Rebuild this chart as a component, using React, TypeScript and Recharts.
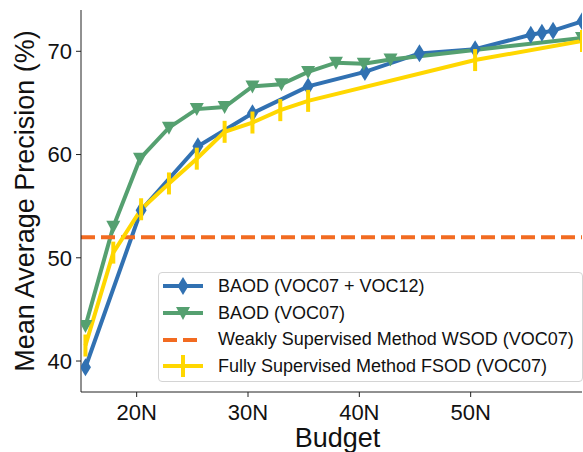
import { LineChart, Line, XAxis, YAxis, ReferenceLine, Legend } from "recharts";

// budget (in units of N) and mAP (%)
const BUDGET_BAOD_0712 = [15.4, 20.4, 25.5, 30.4, 35.4, 40.5, 45.4, 50.4, 55.4, 56.4, 57.4, 60];
const MAP_BAOD_0712 = [39.4, 54.6, 60.8, 64.0, 66.6, 68.0, 69.8, 70.2, 71.6, 71.8, 72.0, 72.9];

const BUDGET_BAOD_07 = [15.4, 17.9, 20.3, 22.9, 25.4, 27.9, 30.4, 33.0, 35.4, 37.9, 40.4, 42.8, 60];
const MAP_BAOD_07 = [43.4, 53.0, 59.6, 62.6, 64.4, 64.6, 66.6, 66.8, 68.0, 68.9, 68.8, 69.2, 71.3];

const BUDGET_FSOD = [15.4, 17.9, 20.4, 22.9, 25.4, 27.9, 30.4, 32.9, 35.4, 50.4, 60];
const MAP_FSOD = [41.5, 50.5, 54.7, 57.2, 59.6, 62.2, 63.1, 64.3, 65.2, 69.15, 71.0];

const MAP_WSOD = 52;

const X_TICKS = [20, 30, 40, 50];
const Y_TICKS = [40, 50, 60, 70];

const SERIES_NAMES = [
  "BAOD (VOC07 + VOC12)",
  "BAOD (VOC07)",
  "Weakly Supervised Method WSOD (VOC07)",
  "Fully Supervised Method FSOD (VOC07)",
];

const BLUE = "#3171b2";
const GREEN = "#55a070";
const ORANGE = "#f26b21";
const YELLOW = "#ffd700";
const INK = "#111";
const FONT = "'Liberation Sans', Arial, Helvetica, sans-serif";

const toPoints = (xs: number[], ys: number[]) => xs.map((x, i) => ({ budget: x, map: ys[i] }));

const baod0712 = toPoints(BUDGET_BAOD_0712, MAP_BAOD_0712);
const baod07 = toPoints(BUDGET_BAOD_07, MAP_BAOD_07);
const fsod = toPoints(BUDGET_FSOD, MAP_FSOD);

function diamond(cx: number, cy: number, key?: string) {
  return (
    <path
      key={key}
      d={`M${cx},${cy - 9}L${cx + 5.5},${cy}L${cx},${cy + 9}L${cx - 5.5},${cy}Z`}
      fill={BLUE}
    />
  );
}

function triangleDown(cx: number, cy: number, key?: string) {
  return (
    <path
      key={key}
      d={`M${cx - 7},${cy - 6}L${cx + 7},${cy - 6}L${cx},${cy + 7}Z`}
      fill={GREEN}
    />
  );
}

// vertical tick marker ("|")
function vbar(cx: number, cy: number, key?: string) {
  return (
    <path
      key={key}
      d={`M${cx},${cy - 11}V${cy + 11}`}
      stroke={YELLOW}
      strokeWidth={4}
      fill="none"
    />
  );
}

const LEGEND_ICONS = [
  (w: number) => (
    <>
      <line x1={0} x2={w} y1={13} y2={13} stroke={BLUE} strokeWidth={4} />
      {diamond(w / 2, 13)}
    </>
  ),
  (w: number) => (
    <>
      <line x1={0} x2={w} y1={13} y2={13} stroke={GREEN} strokeWidth={4} />
      {triangleDown(w / 2, 13)}
    </>
  ),
  (w: number) => (
    <line x1={0} x2={w} y1={13} y2={13} stroke={ORANGE} strokeWidth={4} strokeDasharray="14 6" />
  ),
  (w: number) => (
    <>
      <line x1={0} x2={w} y1={13} y2={13} stroke={YELLOW} strokeWidth={4} />
      {vbar(w / 2, 13)}
    </>
  ),
];

function LegendBox() {
  return (
    <div
      style={{
        boxSizing: "border-box",
        width: 425,
        height: 110,
        background: "rgba(255,255,255,0.85)",
        border: "1px solid #d4d4d4",
        borderRadius: 4,
        padding: "0 0 0 4px",
        fontFamily: FONT,
        fontSize: 18,
        color: INK,
      }}
    >
      {SERIES_NAMES.map((name, i) => (
        <div key={name} style={{ display: "flex", alignItems: "center", height: 26.7 }}>
          <svg width={40} height={26} style={{ marginRight: 15, overflow: "visible" }}>
            {LEGEND_ICONS[i](40)}
          </svg>
          <span style={{ whiteSpace: "nowrap" }}>{name}</span>
        </div>
      ))}
    </div>
  );
}

export default function App() {
  const tickStyle = { fontSize: 22, fill: INK, fontFamily: FONT };
  return (
    <div style={{ position: "absolute", left: 0, top: 0, width: 583, height: 452, background: "#fff" }}>
      <LineChart
        width={583}
        height={452}
        margin={{ top: 10, right: 1, bottom: 0, left: 0 }}
        style={{ fontFamily: FONT }}
      >
        <XAxis
          dataKey="budget"
          type="number"
          domain={[15, 60]}
          ticks={X_TICKS}
          tickFormatter={(v: number) => `${v}N`}
          allowDataOverflow
          height={60}
          tick={tickStyle}
          tickSize={5}
          tickMargin={7}
          stroke="#222"
          label={{
            content: ({ viewBox }: any) => (
              <text
                x={viewBox.x + viewBox.width / 2 + 6}
                y={viewBox.y + 55}
                textAnchor="middle"
                fontSize={27}
                fill={INK}
                fontFamily={FONT}
              >
                Budget
              </text>
            ),
          }}
        />
        <XAxis xAxisId="top" orientation="top" type="number" domain={[15, 60]} height={0} tick={false} tickLine={false} stroke="#222" />
        <YAxis
          dataKey="map"
          type="number"
          domain={[37, 74]}
          ticks={Y_TICKS}
          allowDataOverflow
          width={81}
          tick={tickStyle}
          tickSize={5}
          tickMargin={4}
          stroke="#222"
          label={{
            content: ({ viewBox }: any) => {
              const cx = viewBox.x + 34;
              const cy = viewBox.y + viewBox.height / 2;
              return (
                <text
                  x={cx}
                  y={cy}
                  transform={`rotate(-90 ${cx} ${cy})`}
                  textAnchor="middle"
                  fontSize={27}
                  fill={INK}
                  fontFamily={FONT}
                >
                  Mean Average Precision (%)
                </text>
              );
            },
          }}
        />
        <YAxis yAxisId="right" orientation="right" type="number" domain={[37, 74]} width={0} tick={false} tickLine={false} stroke="#222" />
        <Line
          data={baod0712}
          dataKey="map"
          name={SERIES_NAMES[0]}
          stroke={BLUE}
          strokeWidth={4}
          dot={(p: any) => diamond(p.cx, p.cy, `b${p.index}`)}
          activeDot={false}
          isAnimationActive={false}
        />
        <Line
          data={baod07}
          dataKey="map"
          name={SERIES_NAMES[1]}
          stroke={GREEN}
          strokeWidth={4}
          dot={(p: any) => triangleDown(p.cx, p.cy, `g${p.index}`)}
          activeDot={false}
          isAnimationActive={false}
        />
        <ReferenceLine y={MAP_WSOD} stroke={ORANGE} strokeWidth={4} strokeDasharray="14 6" />
        <Line
          data={fsod}
          dataKey="map"
          name={SERIES_NAMES[3]}
          stroke={YELLOW}
          strokeWidth={4}
          dot={(p: any) => vbar(p.cx, p.cy, `y${p.index}`)}
          activeDot={false}
          isAnimationActive={false}
        />
        <Legend
          layout="horizontal"
          align="center"
          verticalAlign="middle"
          wrapperStyle={{ left: 158, top: 272, width: 425, height: 110 }}
          content={() => <LegendBox />}
        />
      </LineChart>
    </div>
  );
}
